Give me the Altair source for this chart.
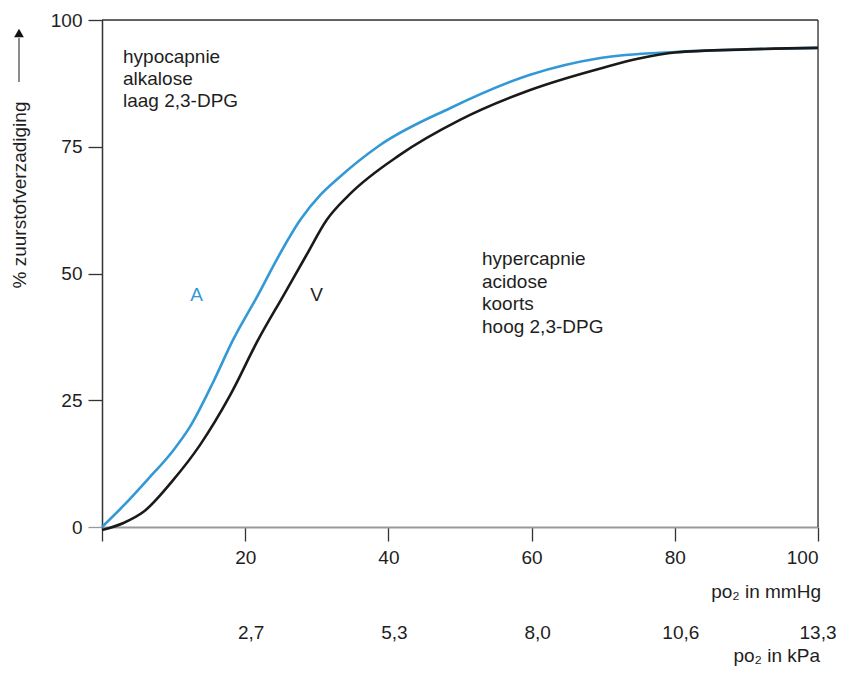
import altair as alt
import pandas as pd

# ---- data ----
a_x = [0, 3, 6.4, 10, 12.3, 15.5, 18.3, 21.8, 24.5, 27.7, 30.5, 33, 38.8, 48.6, 59.8, 69.6, 80, 90, 100]
a_y = [0, 4.2, 9.4, 15.2, 19.8, 28.5, 36.9, 45.8, 53, 60.6, 65.5, 68.8, 75.3, 82.6, 89.2, 92.5, 93.7, 94.2, 94.5]
v_x = [0, 3, 5.8, 9.9, 13.7, 17.9, 21.8, 25.4, 28.5, 31.4, 34.5, 41.6, 50, 59.8, 70, 75, 80, 90, 100]
v_y = [-0.6, 0.8, 3, 9.2, 16.2, 26, 36.9, 45.8, 53.5, 60.6, 65.5, 73.4, 80.3, 86.2, 90.6, 92.4, 93.6, 94.2, 94.5]
y_ticks = [0, 25, 50, 75, 100]
x_ticks = [0, 20, 40, 60, 80, 100]
kpa_pos = [20, 40, 60, 80, 100]
kpa_labels = ["2,7", "5,3", "8,0", "10,6", "13,3"]
upper_note = ["hypocapnie", "alkalose", "laag 2,3-DPG"]
lower_note = ["hypercapnie", "acidose", "koorts", "hoog 2,3-DPG"]
y_title = "% zuurstofverzadiging"
x_title = "po\u2082 in mmHg"
x2_title = "po\u2082 in kPa"

W, H = 716, 507
FONT = "Liberation Sans"
FS = 19
BLUE = "#3399d6"
BLACK = "#1a1a1a"
TXT = "#1e1e1e"

curves = pd.DataFrame({
    "x": a_x + v_x,
    "y": a_y + v_y,
    "c": ["A"] * len(a_x) + ["V"] * len(v_x),
})
kpa = pd.DataFrame({"pos": kpa_pos, "lab": kpa_labels})
one = pd.DataFrame({"d": [0]})

xs = alt.Scale(domain=[0, 100], nice=False, zero=False)
ys = alt.Scale(domain=[0, 100], nice=False, zero=False)

lines = alt.Chart(curves).mark_line(strokeWidth=2.6, interpolate="monotone").encode(
    x=alt.X("x:Q", scale=xs, axis=alt.Axis(
        values=x_ticks, title=None, grid=False,
        labelExpr="datum.value == 0 ? '' : datum.label",
        tickSize=14, tickWidth=1.3, tickColor="#333",
        domainColor="#999", domainWidth=2,
        labelFontSize=FS, labelFont=FONT, labelColor=TXT, labelPadding=7)),
    y=alt.Y("y:Q", scale=ys, axis=alt.Axis(
        values=y_ticks, title=None, grid=False,
        tickSize=14, tickWidth=1.3,
        tickColor={"condition": {"test": "datum.value === 0", "value": "#999"}, "value": "#333"},
        domainColor="#333", domainWidth=1.5,
        labelFontSize=FS, labelFont=FONT, labelColor=TXT, labelPadding=6)),
    color=alt.Color("c:N", scale=alt.Scale(domain=["A", "V"], range=[BLUE, BLACK]), legend=None),
)

top_rule = alt.Chart(one).mark_rule(color="#333", strokeWidth=1.3).encode(
    x=alt.value(0), x2=alt.value(W), y=alt.value(0))
right_rule = alt.Chart(one).mark_rule(color="#333", strokeWidth=1.3).encode(
    x=alt.value(W), y=alt.value(0), y2=alt.value(H))

txt = dict(font=FONT, fontSize=FS, color=TXT)

note1 = alt.Chart(one).mark_text(align="left", baseline="alphabetic", lineHeight=22, **txt).encode(
    x=alt.value(21), y=alt.value(43), text=alt.value(upper_note))
note2 = alt.Chart(one).mark_text(align="left", baseline="alphabetic", lineHeight=22.7, **txt).encode(
    x=alt.value(380), y=alt.value(245), text=alt.value(lower_note))
lab_a = alt.Chart(one).mark_text(align="center", baseline="alphabetic", font=FONT, fontSize=FS, color=BLUE).encode(
    x=alt.value(94.5), y=alt.value(281), text=alt.value("A"))
lab_v = alt.Chart(one).mark_text(align="center", baseline="alphabetic", **txt).encode(
    x=alt.value(214.5), y=alt.value(281), text=alt.value("V"))

ytitle = alt.Chart(one).mark_text(angle=270, align="center", baseline="middle", **txt).encode(
    x=alt.value(-82), y=alt.value(175), text=alt.value(y_title))
arrow_line = alt.Chart(one).mark_rule(color="#666", strokeWidth=1.5).encode(
    x=alt.value(-83), y=alt.value(18), y2=alt.value(62))
arrow_head = alt.Chart(one).mark_point(shape="triangle-up", filled=True, size=95, color="#111", opacity=1).encode(
    x=alt.value(-83), y=alt.value(13))

kpa_text = alt.Chart(kpa).mark_text(
    dx={"expr": "datum.pos >= 100 ? 0 : 6"}, align="center", baseline="alphabetic", **txt
).encode(
    x=alt.X("pos:Q", scale=xs), y=alt.value(619), text="lab:N")
xtitle = alt.Chart(one).mark_text(align="right", baseline="alphabetic", **txt).encode(
    x=alt.value(719), y=alt.value(578), text=alt.value(x_title))
x2title = alt.Chart(one).mark_text(align="right", baseline="alphabetic", **txt).encode(
    x=alt.value(718), y=alt.value(642), text=alt.value(x2_title))

chart = alt.layer(
    top_rule, right_rule, lines, note1, note2, lab_a, lab_v,
    ytitle, arrow_line, arrow_head, kpa_text, xtitle, x2title,
).properties(
    width=W, height=H,
    autosize="none",
    padding={"left": 94, "top": 12, "right": 18, "bottom": 140},
).configure_view(stroke=None).configure(font=FONT)

chart.save("out.html", embed_options={"renderer": "svg", "actions": False})
